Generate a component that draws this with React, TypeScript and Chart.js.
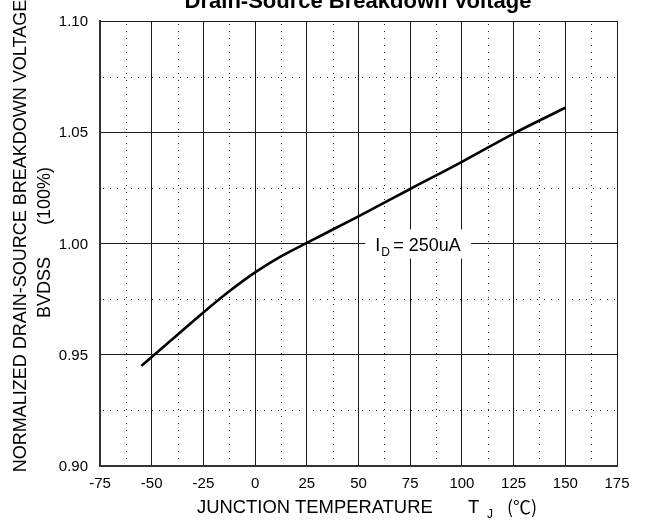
import { useEffect, useRef } from "react";
import { Chart, registerables } from "chart.js";

Chart.register(...registerables);

// ---- data ----
const temperatures = [-55, -50, -37.5, -25, -12.5, 0, 12.5, 25, 50, 75, 100, 125, 150];
const bvdssNormalized = [0.945, 0.949, 0.959, 0.969, 0.9785, 0.987, 0.9942, 1.0003, 1.0122, 1.0245, 1.0367, 1.0494, 1.061];
const xMajorTicks = [-75, -50, -25, 0, 25, 50, 75, 100, 125, 150, 175];
const xMinorGrid = [-62.5, -37.5, -12.5, 12.5, 37.5, 62.5, 87.5, 112.5, 137.5, 162.5];
const yMajorTicks = [0.9, 0.95, 1.0, 1.05, 1.1];
const yMinorGrid = [0.925, 0.975, 1.025, 1.075];

const chartTitle = "Drain-Source Breakdown Voltage";
const yTitleLine1 = "NORMALIZED DRAIN-SOURCE BREAKDOWN VOLTAGE";
const yTitleLine2a = "BVDSS";
const yTitleLine2b = "(100%)";
const xTitleMain = "JUNCTION TEMPERATURE";
const xTitleSym = "T";
const xTitleSub = "J";
const xTitleUnit = "(\u2103)";
const noteMain = "I";
const noteSub = "D";
const noteRest = " = 250uA";

const FONT = '"Liberation Sans", Arial, Helvetica, sans-serif';
const CJK = '"Noto Sans CJK SC", "DejaVu Sans", sans-serif';

const minorGridPlugin = {
  id: "minorGrid",
  beforeDatasetsDraw(chart: any) {
    const { ctx, chartArea, scales } = chart;
    ctx.save();
    ctx.strokeStyle = "#222";
    ctx.lineWidth = 1;
    ctx.setLineDash([1, 6]);
    xMinorGrid.forEach((v) => {
      const px = Math.round(scales.x.getPixelForValue(v)) + 0.5;
      ctx.beginPath();
      ctx.moveTo(px, chartArea.top + 3);
      ctx.lineTo(px, chartArea.bottom);
      ctx.stroke();
    });
    yMinorGrid.forEach((v) => {
      const py = Math.round(scales.y.getPixelForValue(v)) + 0.5;
      ctx.beginPath();
      ctx.moveTo(chartArea.left + 3, py);
      ctx.lineTo(chartArea.right, py);
      ctx.stroke();
    });
    ctx.restore();
  },
};

const textPlugin = {
  id: "texts",
  afterDraw(chart: any) {
    const { ctx, scales } = chart;
    ctx.save();
    ctx.fillStyle = "#000";
    ctx.textBaseline = "alphabetic";

    // title (cut at top)
    ctx.font = `bold 22px ${FONT}`;
    ctx.textAlign = "center";
    ctx.fillText(chartTitle, 358, 8);

    // y axis title
    ctx.font = `18px ${FONT}`;
    ctx.save();
    ctx.translate(26, 236);
    ctx.rotate(-Math.PI / 2);
    ctx.textAlign = "center";
    ctx.fillText(yTitleLine1, 0, 0);
    ctx.restore();

    ctx.save();
    ctx.translate(49.5, 318);
    ctx.rotate(-Math.PI / 2);
    ctx.textAlign = "left";
    ctx.fillText(yTitleLine2a, 0, 0);
    ctx.fillText(yTitleLine2b, 318 - 225, 0);
    ctx.restore();

    // x axis title
    ctx.textAlign = "left";
    ctx.font = `18.4px ${FONT}`;
    ctx.fillText(xTitleMain, 197, 513);
    ctx.fillText(xTitleSym, 468, 513);
    ctx.font = `18px ${CJK}`;
    ctx.fillText(xTitleUnit, 507, 514);
    ctx.font = `12px ${FONT}`;
    ctx.fillText(xTitleSub, 487, 518);

    // annotation I_D = 250uA
    const cx = scales.x.getPixelForValue(75);
    const cy = scales.y.getPixelForValue(1.0);
    ctx.fillStyle = "#fff";
    ctx.fillRect(cx - 45, cy - 14, 106, 29);
    ctx.fillStyle = "#000";
    ctx.font = `18px ${FONT}`;
    ctx.fillText(noteMain, cx - 35, cy + 7);
    ctx.fillText(noteRest, cx - 22, cy + 7);
    ctx.font = `12px ${FONT}`;
    ctx.fillText(noteSub, cx - 29, cy + 12);
    ctx.restore();
  },
};

export default function App() {
  const ref = useRef<HTMLCanvasElement | null>(null);

  useEffect(() => {
    if (!ref.current) return;
    const chart = new Chart(ref.current, {
      type: "line",
      data: {
        datasets: [
          {
            data: temperatures.map((t, i) => ({ x: t, y: bvdssNormalized[i] })),
            borderColor: "#000",
            borderWidth: 2.6,
            pointRadius: 0,
            fill: false,
            cubicInterpolationMode: "monotone",
          },
        ],
      },
      options: {
        responsive: false,
        animation: false,
        layout: { padding: { top: 17, right: 29, left: 0, bottom: 0 } },
        plugins: {
          legend: { display: false },
          tooltip: { enabled: false },
          title: { display: false },
        },
        scales: {
          x: {
            type: "linear",
            min: -75,
            max: 175,
            afterBuildTicks: (axis: any) => {
              axis.ticks = xMajorTicks.map((v) => ({ value: v }));
            },
            afterFit: (axis: any) => {
              axis.height = 55;
            },
            ticks: {
              color: "#000",
              font: { family: FONT, size: 15 },
              padding: 9,
              maxRotation: 0,
              autoSkip: false,
              callback: (v: any) => String(v),
            },
            grid: { color: "#1a1a1a", lineWidth: 1, drawTicks: false },
            border: { display: true, color: "#333", width: 2 },
          },
          y: {
            type: "linear",
            min: 0.9,
            max: 1.1,
            afterBuildTicks: (axis: any) => {
              axis.ticks = yMajorTicks.map((v) => ({ value: v }));
            },
            afterFit: (axis: any) => {
              axis.width = 100;
            },
            ticks: {
              color: "#000",
              font: { family: FONT, size: 15 },
              padding: 12,
              labelOffset: 1,
              autoSkip: false,
              callback: (v: any) => Number(v).toFixed(2),
            },
            grid: { color: "#1a1a1a", lineWidth: 1, drawTicks: false },
            border: { display: true, color: "#333", width: 2 },
          },
        },
      },
      plugins: [minorGridPlugin, textPlugin],
    } as any);
    return () => chart.destroy();
  }, []);

  return (
    <div style={{ position: "fixed", left: 0, top: 0, width: 646, height: 521, background: "#fff" }}>
      <canvas ref={ref} width={646} height={521} style={{ display: "block" }} />
    </div>
  );
}
